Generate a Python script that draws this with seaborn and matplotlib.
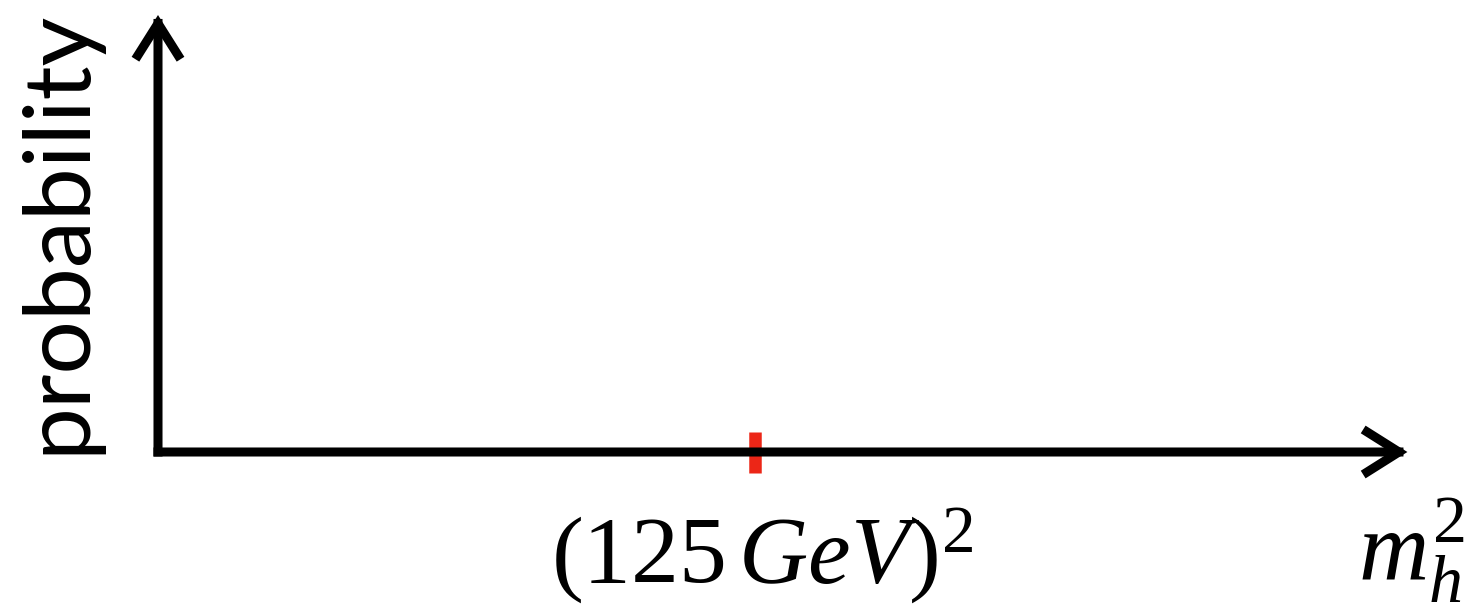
import matplotlib
matplotlib.use("Agg")
import matplotlib.pyplot as plt
import seaborn as sns
import pandas as pd

# Schematic: probability distribution over the squared Higgs mass
higgs_mass_gev = 125.0
peak_m2 = higgs_mass_gev ** 2          # (125 GeV)^2 in GeV^2
axis_end_m2 = 32700.0                  # where the m_h^2 arrow ends
prob_axis_top = 1.0                    # top of the probability arrow
tick_half_height = [-0.048, 0.046]     # extent of the red marker around zero

x_label_text = r"$(125\,GeV)^2$"
x_axis_text = r"$m_h^2$"
y_axis_text = "probability"

sns.set_theme(style="white")
plt.rcParams["mathtext.fontset"] = "custom"
plt.rcParams["mathtext.rm"] = "Liberation Serif"
plt.rcParams["mathtext.it"] = "Liberation Serif:italic"
plt.rcParams["font.family"] = ["Lato", "DejaVu Sans"]

fig = plt.figure(figsize=(14.72, 6.11), dpi=100)
ax = fig.add_axes([0, 0, 1, 1])
px = peak_m2 / 597.0                   # GeV^2 per pixel along x
py = 1.0 / 437.0                       # probability units per pixel along y
ax.set_xlim(-158 * px, (1472 - 158) * px)
ax.set_ylim(-(611 - 452) * py, 1 + 15 * py)
ax.axis("off")

arrow_kw = dict(arrowstyle="->,head_length=2.3,head_width=1.45",
                color="black", lw=6.5, mutation_scale=10,
                shrinkA=0, shrinkB=0, capstyle="projecting",
                joinstyle="miter")
# axes as arrows
ax.annotate("", xy=(axis_end_m2, 0), xytext=(0, 0),
            arrowprops=arrow_kw)
ax.annotate("", xy=(0, prob_axis_top), xytext=(0, 0),
            arrowprops=arrow_kw)

# red marker at (125 GeV)^2
marker = pd.DataFrame({"m2": [peak_m2, peak_m2], "p": tick_half_height})
sns.lineplot(data=marker, x="m2", y="p", ax=ax, color="#EC2617",
             lw=9, solid_capstyle="butt", sort=False, estimator=None)

ax.text(peak_m2 + 7 * px, -(584 - 452) * py, x_label_text, fontsize=69,
        ha="center", va="baseline", color="black")
ax.text((1358 - 158) * px, -(580 - 452) * py, x_axis_text, fontsize=70,
        ha="left", va="baseline", color="black")
ax.text((58 - 158) * px, (452 - 232) * py, y_axis_text, fontsize=68,
        rotation=90, ha="center", va="center", color="black")

fig.savefig("out.png", dpi=100, facecolor="white")
